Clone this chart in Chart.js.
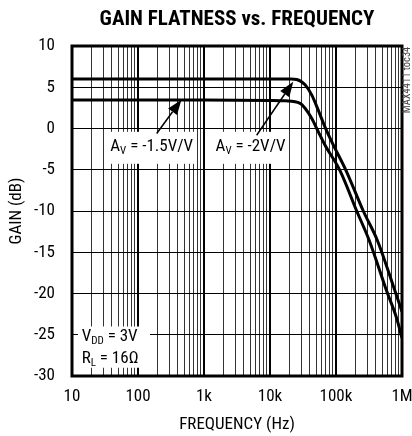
<!DOCTYPE html>
<html><head><meta charset="utf-8">
<script src="https://cdn.jsdelivr.net/npm/chart.js@4/dist/chart.umd.min.js"></script>
<style>html,body{margin:0;padding:0;background:#fff}#wrap{width:412px;height:436px}</style>
</head><body><div id="wrap"><canvas id="c" width="412" height="436"></canvas></div>
<script>
const FONT = "'Roboto Condensed','DejaVu Sans Condensed',sans-serif";
const chartTitle = 'GAIN FLATNESS vs. FREQUENCY';
const xTitle = 'FREQUENCY (Hz)';
const yTitle = 'GAIN (dB)';
const sideNote = 'MAX4411 toc34';
const xTickValues = [10, 100, 1000, 10000, 100000, 1000000];
const xTickLabels = ['10', '100', '1k', '10k', '100k', '1M'];
const yTickValues = [10, 5, 0, -5, -10, -15, -20, -25, -30];

// Av = -2V/V
const freqAv2 = [10, 100, 1000, 10000, 21000, 25400, 34000, 43000, 54000, 68000, 86000, 142000, 259000, 425000, 783000, 1000000];
const gainAv2 = [6.0, 6.0, 6.0, 6.0, 6.0, 5.95, 5.3, 4.05, 2.2, 0.2, -1.6, -5.1, -10.0, -13.6, -19.7, -22.2];
// Av = -1.5V/V
const freqAv15 = [10, 100, 1000, 10000, 17000, 28500, 34000, 43000, 54000, 68000, 115000, 206000, 320000, 586000, 830000, 1000000];
const gainAv15 = [3.45, 3.45, 3.45, 3.4, 3.35, 3.05, 2.45, 1.2, -0.4, -2.0, -5.1, -10.0, -13.6, -19.7, -23.0, -25.4];

const seriesNames = ['AV = -2V/V', 'AV = -1.5V/V'];

// annotation text (parts: [text, isSubscript])
const labelAv15 = [['A', 0], ['V', 1], [' = -1.5V/V', 0]];
const labelAv2 = [['A', 0], ['V', 1], [' = -2V/V', 0]];
const labelVdd = [['V', 0], ['DD', 1], [' = 3V', 0]];
const labelRl = [['R', 0], ['L', 1], [' = 16Ω', 0]];

const minorValues = [];
for (let e = 1; e <= 6; e++) for (let m = 1; m <= 9; m++) { const v = m * Math.pow(10, e); if (v <= 1e6) minorValues.push(v); }

function toXY(fs, gs) { return fs.map((f, i) => ({ x: f, y: gs[i] })); }

function richWidth(ctx, parts, size, subSize) {
  let w = 0;
  for (const [t, s] of parts) { ctx.font = (s ? subSize : size) + 'px ' + FONT; w += ctx.measureText(t).width; }
  return w;
}
function drawRich(ctx, parts, x, y, size, subSize) {
  let cx = x;
  ctx.textBaseline = 'middle';
  ctx.textAlign = 'left';
  for (const [t, s] of parts) {
    ctx.font = (s ? subSize : size) + 'px ' + FONT;
    ctx.fillText(t, cx, s ? y + 4 : y);
    cx += ctx.measureText(t).width;
  }
}
function arrow(ctx, x1, y1, x2, y2) {
  const ang = Math.atan2(y2 - y1, x2 - x1);
  const L = 15, W = 5.5;
  const bx = x2 - L * Math.cos(ang), by = y2 - L * Math.sin(ang);
  ctx.strokeStyle = '#000'; ctx.lineWidth = 1.5;
  ctx.beginPath(); ctx.moveTo(x1, y1); ctx.lineTo(bx, by); ctx.stroke();
  ctx.fillStyle = '#000';
  ctx.beginPath();
  ctx.moveTo(x2, y2);
  ctx.lineTo(bx - W * Math.sin(ang), by + W * Math.cos(ang));
  ctx.lineTo(bx + W * Math.sin(ang), by - W * Math.cos(ang));
  ctx.closePath(); ctx.fill();
}

const LABEL_SIZE = 17, SUB_SIZE = 11;

const annotationPlugin = {
  id: 'annot',
  beforeDatasetsDraw(chart) {
    const { ctx, scales: { x, y } } = chart;
    ctx.save();
    ctx.fillStyle = '#fff';
    const lbls = [[labelAv15, 161], [labelAv2, 5070]];
    for (const [parts, f] of lbls) {
      const w = richWidth(ctx, parts, LABEL_SIZE, SUB_SIZE) + 4;
      const cx = x.getPixelForValue(f), cy = y.getPixelForValue(-2.34);
      ctx.fillRect(cx - w / 2, cy - 16, w, 32);
    }
    const l = x.getPixelForValue(12.3), r = x.getPixelForValue(152);
    const t = y.getPixelForValue(-24.0), b = y.getPixelForValue(-29.0);
    ctx.fillRect(l, t, r - l, b - t);
    ctx.restore();
  },
  afterDraw(chart) {
    const { ctx, chartArea: a, scales: { x, y } } = chart;
    ctx.save();
    ctx.strokeStyle = '#000'; ctx.lineWidth = 3;
    ctx.strokeRect(a.left, a.top, a.right - a.left, a.bottom - a.top);
    ctx.fillStyle = '#000';
    const lbls = [[labelAv15, 161], [labelAv2, 5070]];
    for (const [parts, f] of lbls) {
      const w = richWidth(ctx, parts, LABEL_SIZE, SUB_SIZE);
      drawRich(ctx, parts, x.getPixelForValue(f) - w / 2, y.getPixelForValue(-2.34) - 1, LABEL_SIZE, SUB_SIZE);
    }
    drawRich(ctx, labelVdd, x.getPixelForValue(14), y.getPixelForValue(-25.41) - 1, LABEL_SIZE, SUB_SIZE);
    drawRich(ctx, labelRl, x.getPixelForValue(14), y.getPixelForValue(-28.05) - 1, LABEL_SIZE, SUB_SIZE);
    arrow(ctx, x.getPixelForValue(192), y.getPixelForValue(-0.61), x.getPixelForValue(455), y.getPixelForValue(3.5));
    arrow(ctx, x.getPixelForValue(6280), y.getPixelForValue(-0.82), x.getPixelForValue(22500), y.getPixelForValue(5.68));
    ctx.fillStyle = '#000';
    ctx.font = 'bold 21px ' + FONT;
    ctx.textAlign = 'center'; ctx.textBaseline = 'middle';
    ctx.fillText(chartTitle, (a.left + a.right) / 2, 20);
    ctx.save();
    ctx.translate(a.right + 5, 80);
    ctx.rotate(-Math.PI / 2);
    ctx.font = '10.5px ' + FONT;
    ctx.fillStyle = '#444';
    ctx.fillText(sideNote, 0, 0);
    ctx.restore();
    ctx.restore();
  }
};

new Chart(document.getElementById('c'), {
  type: 'line',
  data: {
    datasets: [
      { label: seriesNames[0], data: toXY(freqAv2, gainAv2), borderColor: '#000', borderWidth: 3, pointRadius: 0, cubicInterpolationMode: 'monotone', fill: false },
      { label: seriesNames[1], data: toXY(freqAv15, gainAv15), borderColor: '#000', borderWidth: 3, pointRadius: 0, cubicInterpolationMode: 'monotone', fill: false }
    ]
  },
  options: {
    responsive: false, animation: false, devicePixelRatio: 1,
    layout: { padding: { top: 46, right: 10, left: 0, bottom: 0 } },
    plugins: { legend: { display: false }, tooltip: { enabled: false }, title: { display: false } },
    scales: {
      x: {
        type: 'logarithmic', min: 10, max: 1000000,
        afterBuildTicks: s => { s.ticks = minorValues.map(v => ({ value: v })); },
        afterFit: s => { s.height = 60; s.paddingLeft = 0; s.paddingRight = 0; },
        ticks: {
          autoSkip: false, maxRotation: 0, minRotation: 0, padding: 11, color: '#000',
          font: { family: FONT, size: 17 },
          callback: v => { const i = xTickValues.indexOf(v); return i >= 0 ? xTickLabels[i] : ''; }
        },
        grid: {
          drawTicks: false,
          color: c => xTickValues.includes(c.tick && c.tick.value) ? '#000' : '#333',
          lineWidth: c => xTickValues.includes(c.tick && c.tick.value) ? 2 : 1
        },
        border: { display: false },
        title: { display: true, text: xTitle, color: '#000', font: { family: FONT, size: 17 }, padding: { top: 0, bottom: 1 } }
      },
      y: {
        type: 'linear', min: -30, max: 10,
        afterBuildTicks: s => { s.ticks = yTickValues.map(v => ({ value: v })); },
        afterFit: s => { s.width = 72; s.paddingTop = 0; s.paddingBottom = 0; },
        ticks: { padding: 17, color: '#000', font: { family: FONT, size: 17 } },
        grid: { drawTicks: false, color: '#000', lineWidth: 1 },
        border: { display: false },
        title: { display: true, text: yTitle, color: '#000', font: { family: FONT, size: 17 }, padding: { top: 7, bottom: 0 } }
      }
    }
  },
  plugins: [annotationPlugin]
});
</script></body></html>
